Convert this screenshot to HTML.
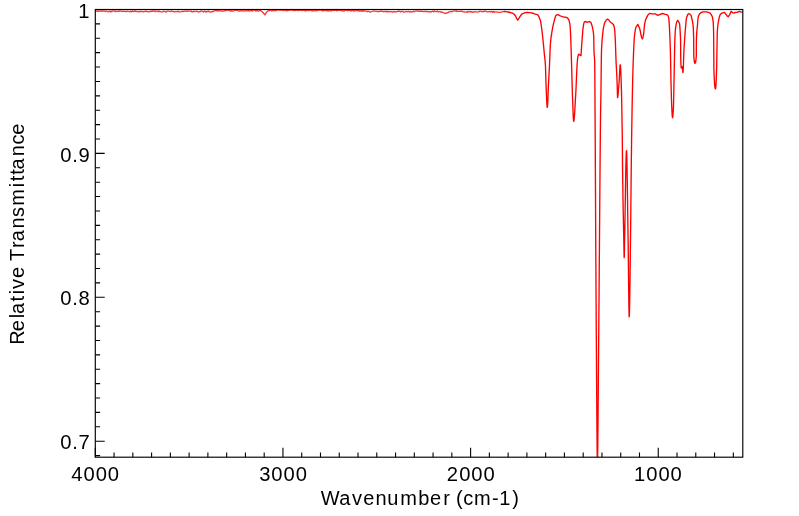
<!DOCTYPE html>
<html><head><meta charset="utf-8"><style>
html,body{margin:0;padding:0;background:#fff;}
body{width:799px;height:516px;overflow:hidden;position:relative;}
svg{position:absolute;left:0;top:0;will-change:transform;}
text{font-family:"Liberation Sans",sans-serif;fill:#000;}
</style></head><body>
<svg width="799" height="516" viewBox="0 0 799 516">
<defs><clipPath id="c"><rect x="95.3" y="9.5" width="647.50" height="447.70"/></clipPath></defs>
<path d="M95.50,11.30 L96.21,11.11 L96.91,10.92 L97.62,11.47 L98.33,10.84 L99.04,11.35 L99.74,11.16 L100.45,10.82 L101.16,11.32 L101.86,10.80 L102.57,11.24 L103.28,10.84 L103.99,10.87 L104.69,11.24 L105.40,11.68 L106.11,10.91 L106.81,11.02 L107.52,11.46 L108.23,11.82 L108.94,11.41 L109.64,11.21 L110.35,11.85 L111.06,10.83 L111.76,11.73 L112.47,11.10 L113.18,10.94 L113.89,10.92 L114.59,11.13 L115.30,11.69 L116.01,10.99 L116.71,11.43 L117.42,11.50 L118.13,11.21 L118.84,11.40 L119.54,10.87 L120.25,10.87 L120.96,11.03 L121.66,11.55 L122.37,11.27 L123.08,11.15 L123.79,11.45 L124.49,11.31 L125.20,11.14 L125.91,11.69 L126.61,11.58 L127.32,11.08 L128.03,11.45 L128.74,11.39 L129.44,11.78 L130.15,11.62 L130.86,11.14 L131.56,11.90 L132.27,10.95 L132.98,11.29 L133.69,11.66 L134.39,11.00 L135.10,11.37 L135.81,10.87 L136.51,11.57 L137.22,11.68 L137.93,11.47 L138.64,11.80 L139.34,11.18 L140.05,11.60 L140.76,11.50 L141.46,11.48 L142.17,11.35 L142.88,11.77 L143.59,11.89 L144.29,11.37 L145.00,11.40 L145.70,11.58 L146.41,10.92 L147.11,11.63 L147.82,11.57 L148.52,11.96 L149.23,11.77 L149.93,11.18 L150.63,11.30 L151.34,11.61 L152.04,10.90 L152.75,11.39 L153.45,11.07 L154.15,11.02 L154.86,10.95 L155.56,11.74 L156.27,11.04 L156.97,11.17 L157.68,11.33 L158.38,11.86 L159.08,10.99 L159.79,11.40 L160.49,11.52 L161.20,11.89 L161.90,11.82 L162.61,11.87 L163.31,11.23 L164.01,11.38 L164.72,11.32 L165.42,11.90 L166.13,11.99 L166.83,11.10 L167.54,11.13 L168.24,11.20 L168.94,11.20 L169.65,11.48 L170.35,11.60 L171.06,11.24 L171.76,10.96 L172.46,11.42 L173.17,11.37 L173.87,11.59 L174.58,12.02 L175.28,11.73 L175.99,11.54 L176.69,11.66 L177.39,11.72 L178.10,11.04 L178.80,11.97 L179.51,11.85 L180.21,11.95 L180.92,11.87 L181.62,11.43 L182.32,11.44 L183.03,11.12 L183.73,11.70 L184.44,11.08 L185.14,11.08 L185.85,11.24 L186.55,11.19 L187.25,11.39 L187.96,11.08 L188.66,11.02 L189.37,11.19 L190.07,11.14 L190.77,11.43 L191.48,11.06 L192.18,12.00 L192.89,11.72 L193.59,11.21 L194.30,11.32 L195.00,11.60 L195.72,11.43 L196.44,11.45 L197.16,11.19 L197.88,11.98 L198.60,12.14 L199.32,11.56 L200.04,11.58 L200.76,11.14 L201.48,11.16 L202.20,11.43 L202.92,11.34 L203.64,11.96 L204.36,11.23 L205.08,11.08 L205.80,12.10 L206.52,11.63 L207.24,11.21 L207.96,11.65 L208.68,11.08 L209.40,11.63 L210.12,12.13 L210.84,12.00 L211.56,11.82 L212.28,11.34 L213.00,11.60 L214.00,11.22 L215.00,10.70 L215.71,10.55 L216.43,10.33 L217.14,10.99 L217.86,10.73 L218.57,11.00 L219.29,10.50 L220.00,10.38 L220.71,11.02 L221.43,11.21 L222.14,11.06 L222.86,11.01 L223.57,11.02 L224.29,10.93 L225.00,10.37 L225.71,10.68 L226.43,10.50 L227.14,10.14 L227.86,10.14 L228.57,10.41 L229.29,10.39 L230.00,10.86 L230.71,11.15 L231.43,10.59 L232.14,11.12 L232.86,11.18 L233.57,11.14 L234.29,10.49 L235.00,10.33 L235.71,10.33 L236.43,10.29 L237.14,10.30 L237.86,10.76 L238.57,11.06 L239.29,10.99 L240.00,10.59 L240.71,10.78 L241.43,10.94 L242.14,10.15 L242.86,10.78 L243.57,11.06 L244.29,10.91 L245.00,10.60 L245.71,10.88 L246.42,10.58 L247.13,10.25 L247.84,10.92 L248.55,10.42 L249.25,10.93 L249.96,11.12 L250.67,10.49 L251.38,10.49 L252.09,11.09 L252.80,10.85 L253.51,10.24 L254.22,10.19 L254.93,10.22 L255.64,11.05 L256.35,10.94 L257.05,10.21 L257.76,10.96 L258.47,11.13 L259.18,10.77 L259.89,10.44 L260.60,10.60 L261.85,11.46 L263.10,12.75 L264.90,14.90 L266.60,12.10 L267.68,11.08 L268.75,10.60 L269.48,10.61 L270.20,10.11 L270.93,9.95 L271.65,10.96 L272.38,10.56 L273.10,10.39 L273.82,10.80 L274.55,10.21 L275.27,10.65 L276.00,10.20 L276.71,10.56 L277.41,9.89 L278.12,9.94 L278.83,9.99 L279.54,9.94 L280.24,10.32 L280.95,9.97 L281.66,10.15 L282.37,9.84 L283.07,10.70 L283.78,10.09 L284.49,10.21 L285.20,10.36 L285.90,10.71 L286.61,10.19 L287.32,10.74 L288.02,10.28 L288.73,10.32 L289.44,10.32 L290.15,9.77 L290.85,10.24 L291.56,9.96 L292.27,9.77 L292.98,10.65 L293.68,9.96 L294.39,10.30 L295.10,10.58 L295.80,10.40 L296.51,10.15 L297.22,10.37 L297.93,10.41 L298.63,10.67 L299.34,9.93 L300.05,10.43 L300.76,10.09 L301.46,10.13 L302.17,10.68 L302.88,10.39 L303.59,10.46 L304.29,10.68 L305.00,10.40 L305.70,10.86 L306.40,10.34 L307.11,10.53 L307.81,10.41 L308.51,10.42 L309.21,10.62 L309.91,10.36 L310.61,10.45 L311.32,10.39 L312.02,10.90 L312.72,10.64 L313.42,10.84 L314.12,10.91 L314.82,10.16 L315.53,10.49 L316.23,10.92 L316.93,10.80 L317.63,10.03 L318.33,10.02 L319.04,10.37 L319.74,9.97 L320.44,10.15 L321.14,9.97 L321.84,10.63 L322.54,10.76 L323.25,10.88 L323.95,10.07 L324.65,10.69 L325.35,10.63 L326.05,10.06 L326.75,10.88 L327.46,10.97 L328.16,10.15 L328.86,10.96 L329.56,10.35 L330.26,10.45 L330.96,11.00 L331.67,10.83 L332.37,10.10 L333.07,10.39 L333.77,10.49 L334.47,10.30 L335.18,10.14 L335.88,10.28 L336.58,10.72 L337.28,9.95 L337.98,10.54 L338.68,10.42 L339.39,9.96 L340.09,10.30 L340.79,10.63 L341.49,10.50 L342.19,10.01 L342.89,11.03 L343.60,10.81 L344.30,11.02 L345.00,10.50 L345.71,10.08 L346.43,10.27 L347.14,10.04 L347.86,10.86 L348.57,10.32 L349.29,10.18 L350.00,10.51 L350.71,11.07 L351.43,10.98 L352.14,10.38 L352.86,10.27 L353.57,11.13 L354.29,10.76 L355.00,10.92 L355.71,10.26 L356.43,10.24 L357.14,10.95 L357.86,10.67 L358.57,10.30 L359.29,11.27 L360.00,10.95 L360.71,11.15 L361.43,10.37 L362.14,11.23 L362.86,10.38 L363.57,11.27 L364.29,10.83 L365.00,10.90 L365.71,10.88 L366.43,11.27 L367.14,11.84 L367.86,11.27 L368.57,11.28 L369.29,11.87 L370.00,12.00 L371.00,11.83 L372.00,11.50 L372.72,11.22 L373.44,11.08 L374.16,11.14 L374.88,11.02 L375.59,11.19 L376.31,11.31 L377.03,11.31 L377.75,11.81 L378.47,11.30 L379.19,11.53 L379.91,11.18 L380.62,11.37 L381.34,11.01 L382.06,11.27 L382.78,11.01 L383.50,11.81 L384.22,11.61 L384.94,11.21 L385.66,11.53 L386.38,12.04 L387.09,11.13 L387.81,11.92 L388.53,11.50 L389.25,11.57 L389.97,11.95 L390.69,11.46 L391.41,11.59 L392.12,11.79 L392.84,12.12 L393.56,11.42 L394.28,11.96 L395.00,11.60 L395.71,11.84 L396.43,11.77 L397.14,11.52 L397.86,11.47 L398.57,11.16 L399.29,11.25 L400.00,11.19 L400.71,11.94 L401.43,11.42 L402.14,11.32 L402.86,11.25 L403.57,12.09 L404.29,12.13 L405.00,11.92 L405.71,11.50 L406.43,11.47 L407.14,11.53 L407.86,11.73 L408.57,11.40 L409.29,11.73 L410.00,11.80 L410.71,11.45 L411.43,12.14 L412.14,12.06 L412.86,11.51 L413.57,11.09 L414.29,11.80 L415.00,11.20 L415.71,11.03 L416.43,11.13 L417.14,10.78 L417.86,11.24 L418.57,11.39 L419.29,11.46 L420.00,11.17 L420.71,11.55 L421.43,11.04 L422.14,11.37 L422.86,11.22 L423.57,11.60 L424.29,11.25 L425.00,11.80 L425.71,11.24 L426.43,11.51 L427.14,11.40 L427.86,11.75 L428.57,11.65 L429.29,11.86 L430.00,11.72 L430.71,11.75 L431.43,11.90 L432.14,11.32 L432.86,11.22 L433.57,11.90 L434.29,10.95 L435.00,11.30 L435.71,11.59 L436.43,11.54 L437.14,10.93 L437.86,11.84 L438.57,11.95 L439.29,11.70 L440.00,11.60 L440.71,12.09 L441.43,12.40 L442.14,11.89 L442.86,12.54 L443.57,12.75 L444.29,13.34 L445.00,13.20 L445.75,13.32 L446.50,13.12 L447.25,12.63 L448.00,12.75 L448.75,12.10 L449.88,11.61 L451.00,11.40 L451.74,11.58 L452.48,11.57 L453.22,11.03 L453.95,10.79 L454.69,10.88 L455.43,11.11 L456.17,10.80 L456.91,11.58 L457.65,11.26 L458.38,11.31 L459.12,11.29 L459.86,11.32 L460.60,11.10 L461.33,11.24 L462.07,10.85 L462.80,11.88 L463.53,11.97 L464.27,11.85 L465.00,12.00 L465.73,12.03 L466.47,12.15 L467.20,11.48 L467.93,12.21 L468.67,11.66 L469.40,11.45 L470.13,11.65 L470.87,12.15 L471.60,11.56 L472.33,12.13 L473.07,12.38 L473.80,11.83 L474.53,11.70 L475.27,11.79 L476.00,11.80 L476.72,11.97 L477.44,12.03 L478.17,11.83 L478.89,11.82 L479.61,11.17 L480.33,11.21 L481.06,11.30 L481.78,11.80 L482.50,11.50 L483.24,11.31 L483.97,11.62 L484.71,11.03 L485.44,11.11 L486.18,11.36 L486.91,11.83 L487.65,11.88 L488.38,11.88 L489.12,11.48 L489.85,11.75 L490.59,11.72 L491.32,11.75 L492.06,11.39 L492.79,12.26 L493.53,11.52 L494.26,12.40 L495.00,11.90 L496.00,11.94 L497.00,12.04 L498.00,12.16 L499.00,12.26 L500.00,12.30 L501.00,12.18 L502.00,11.90 L503.00,11.62 L504.00,11.50" fill="none" stroke="#ff0000" stroke-opacity="0.8" stroke-width="1.3" stroke-linejoin="round" clip-path="url(#c)"/>
<path d="M504.00,11.50 L505.02,11.54 L506.03,11.65 L507.05,11.82 L508.07,12.03 L509.08,12.26 L510.10,12.50 L511.27,12.81 L512.43,13.22 L513.60,13.80 L514.60,14.73 L515.60,16.10 L516.60,18.47 L517.60,20.10 L518.60,18.95 L519.60,17.10 L520.90,15.16 L522.20,13.80 L523.33,13.28 L524.45,12.87 L525.58,12.60 L526.70,12.50 L527.83,12.52 L528.95,12.59 L530.08,12.68 L531.20,12.80 L532.23,13.01 L533.25,13.36 L534.27,13.75 L535.30,14.10 L536.55,14.38 L537.80,14.80 L538.80,16.46 L539.80,19.00 L540.30,20.20 L540.66,21.72 L541.02,23.85 L541.38,26.39 L541.74,29.16 L542.10,32.00 L542.31,33.69 L542.52,35.51 L542.73,37.43 L542.94,39.43 L543.15,41.50 L543.35,43.63 L543.56,45.80 L543.77,47.98 L543.98,50.17 L544.19,52.35 L544.40,54.50 L544.60,56.37 L544.80,58.08 L545.00,59.91 L545.20,62.13 L545.40,65.00 L545.47,66.36 L545.53,68.16 L545.60,70.30 L545.67,72.67 L545.73,75.14 L545.80,77.62 L545.87,79.98 L545.93,82.11 L546.00,83.90 L546.12,86.77 L546.24,89.71 L546.35,92.65 L546.47,95.51 L546.59,98.23 L546.71,100.73 L546.83,102.94 L546.95,104.78 L547.06,106.19 L547.18,107.08 L547.30,107.40 L547.41,107.03 L547.52,105.98 L547.63,104.36 L547.74,102.28 L547.85,99.85 L547.95,97.17 L548.06,94.36 L548.17,91.52 L548.28,88.76 L548.39,86.18 L548.50,83.90 L548.61,81.79 L548.72,79.73 L548.83,77.70 L548.94,75.68 L549.06,73.64 L549.17,71.58 L549.28,69.46 L549.39,67.27 L549.50,65.00 L549.59,62.99 L549.68,60.76 L549.77,58.40 L549.86,55.97 L549.95,53.54 L550.04,51.19 L550.13,48.99 L550.22,47.01 L550.31,45.32 L550.40,44.00 L550.65,41.17 L550.90,38.82 L551.15,36.83 L551.40,35.11 L551.65,33.53 L551.90,32.00 L552.40,29.07 L552.90,26.45 L553.40,24.13 L553.90,22.10 L554.67,19.09 L555.43,16.46 L556.20,15.10 L557.70,14.60 L558.95,15.08 L560.20,15.80 L561.20,16.19 L562.20,16.53 L563.20,16.80 L564.20,16.96 L565.20,17.09 L566.20,17.30 L567.35,17.96 L568.50,19.30 L569.15,20.78 L569.80,23.60 L569.97,24.97 L570.15,27.02 L570.33,29.58 L570.50,32.50 L570.57,33.85 L570.64,35.40 L570.71,37.13 L570.79,39.03 L570.86,41.06 L570.93,43.20 L571.00,45.44 L571.07,47.76 L571.14,50.13 L571.21,52.53 L571.29,54.94 L571.36,57.33 L571.43,59.69 L571.50,62.00 L571.56,63.92 L571.62,65.91 L571.68,67.98 L571.74,70.10 L571.79,72.26 L571.85,74.45 L571.91,76.66 L571.97,78.86 L572.03,81.06 L572.09,83.22 L572.15,85.35 L572.21,87.42 L572.26,89.42 L572.32,91.35 L572.38,93.18 L572.44,94.90 L572.50,96.50 L572.60,99.18 L572.70,101.97 L572.80,104.80 L572.90,107.60 L573.00,110.31 L573.10,112.87 L573.20,115.21 L573.30,117.27 L573.40,118.98 L573.50,120.28 L573.60,121.11 L573.70,121.40 L573.86,121.10 L574.02,120.26 L574.18,118.93 L574.33,117.19 L574.49,115.11 L574.65,112.75 L574.81,110.17 L574.97,107.46 L575.12,104.66 L575.28,101.86 L575.44,99.12 L575.60,96.50 L575.70,94.81 L575.80,92.94 L575.90,90.94 L576.00,88.81 L576.10,86.59 L576.20,84.30 L576.30,81.97 L576.40,79.62 L576.50,77.29 L576.60,74.98 L576.70,72.74 L576.80,70.59 L576.90,68.54 L577.00,66.64 L577.10,64.89 L577.20,63.34 L577.30,62.00 L577.55,59.19 L577.80,57.20 L578.60,54.10 L579.75,54.85 L580.90,55.60 L581.08,54.55 L581.25,52.00 L581.42,48.87 L581.60,46.10 L581.76,44.02 L581.92,41.98 L582.08,39.97 L582.24,37.97 L582.40,36.00 L582.58,33.70 L582.75,31.32 L582.92,29.18 L583.10,27.60 L583.75,23.66 L584.40,21.80 L585.70,21.50 L587.20,22.30 L588.30,21.90 L589.40,21.50 L590.90,22.30 L592.00,25.60 L592.50,27.60 L593.00,30.20 L593.35,32.25 L593.70,36.00 L593.74,37.20 L593.79,39.23 L593.83,41.80 L593.87,44.58 L593.91,47.26 L593.96,49.54 L594.00,51.10 L594.14,53.85 L594.28,55.48 L594.42,56.82 L594.56,58.72 L594.70,62.00 L594.71,62.52 L594.73,63.23 L594.74,64.12 L594.76,65.19 L594.77,66.43 L594.78,67.81 L594.80,69.35 L594.81,71.01 L594.82,72.80 L594.84,74.71 L594.85,76.72 L594.87,78.83 L594.88,81.03 L594.89,83.30 L594.91,85.64 L594.92,88.04 L594.93,90.48 L594.95,92.97 L594.96,95.48 L594.98,98.01 L594.99,100.54 L595.00,103.08 L595.02,105.61 L595.03,108.11 L595.04,110.59 L595.06,113.03 L595.07,115.41 L595.09,117.74 L595.10,120.00 L595.12,122.84 L595.13,125.74 L595.15,128.68 L595.17,131.67 L595.19,134.70 L595.21,137.77 L595.22,140.88 L595.24,144.02 L595.26,147.20 L595.27,150.41 L595.29,153.65 L595.31,156.92 L595.33,160.21 L595.35,163.52 L595.36,166.85 L595.38,170.20 L595.40,173.57 L595.41,176.95 L595.43,180.34 L595.45,183.74 L595.47,187.15 L595.49,190.56 L595.50,193.97 L595.52,197.38 L595.54,200.79 L595.55,204.19 L595.57,207.58 L595.59,210.97 L595.61,214.34 L595.62,217.70 L595.64,221.05 L595.66,224.37 L595.68,227.67 L595.69,230.95 L595.71,234.20 L595.73,237.43 L595.75,240.62 L595.76,243.78 L595.78,246.91 L595.80,250.00 L595.81,252.64 L595.83,255.28 L595.84,257.93 L595.86,260.59 L595.88,263.25 L595.89,265.92 L595.90,268.59 L595.92,271.26 L595.93,273.93 L595.95,276.60 L595.96,279.26 L595.98,281.92 L596.00,284.58 L596.01,287.23 L596.02,289.88 L596.04,292.51 L596.05,295.14 L596.07,297.75 L596.08,300.35 L596.10,302.94 L596.12,305.52 L596.13,308.07 L596.14,310.62 L596.16,313.14 L596.17,315.64 L596.19,318.12 L596.20,320.58 L596.22,323.02 L596.24,325.43 L596.25,327.82 L596.26,330.18 L596.28,332.51 L596.29,334.81 L596.31,337.08 L596.32,339.32 L596.34,341.53 L596.36,343.70 L596.37,345.84 L596.38,347.94 L596.40,350.00 L596.42,353.44 L596.45,356.96 L596.48,360.54 L596.50,364.17 L596.52,367.85 L596.55,371.56 L596.57,375.31 L596.60,379.08 L596.62,382.86 L596.65,386.65 L596.67,390.44 L596.70,394.21 L596.73,397.97 L596.75,401.70 L596.77,405.39 L596.80,409.04 L596.82,412.63 L596.85,416.17 L596.88,419.63 L596.90,423.02 L596.92,426.33 L596.95,429.54 L596.98,432.65 L597.00,435.65 L597.02,438.53 L597.05,441.29 L597.07,443.91 L597.10,446.39 L597.12,448.72 L597.15,450.88 L597.17,452.89 L597.20,454.71 L597.23,456.35 L597.25,457.80 L597.27,459.05 L597.30,460.09 L597.32,460.91 L597.35,461.51 L597.38,461.88 L597.40,462.00 L597.43,461.87 L597.46,461.50 L597.49,460.88 L597.52,460.03 L597.55,458.96 L597.58,457.67 L597.61,456.18 L597.64,454.50 L597.67,452.62 L597.70,450.57 L597.73,448.35 L597.76,445.97 L597.79,443.43 L597.82,440.76 L597.85,437.94 L597.88,435.01 L597.91,431.95 L597.94,428.79 L597.97,425.54 L598.00,422.19 L598.03,418.76 L598.06,415.26 L598.09,411.69 L598.12,408.07 L598.15,404.41 L598.18,400.71 L598.21,396.98 L598.24,393.23 L598.27,389.47 L598.30,385.71 L598.33,381.96 L598.36,378.22 L598.39,374.51 L598.42,370.84 L598.45,367.21 L598.48,363.63 L598.51,360.11 L598.54,356.66 L598.57,353.28 L598.60,350.00 L598.62,347.82 L598.64,345.61 L598.66,343.36 L598.68,341.08 L598.70,338.77 L598.72,336.43 L598.74,334.06 L598.76,331.66 L598.78,329.24 L598.80,326.80 L598.82,324.33 L598.84,321.84 L598.86,319.33 L598.88,316.81 L598.90,314.27 L598.92,311.71 L598.94,309.14 L598.96,306.56 L598.98,303.97 L599.00,301.38 L599.02,298.77 L599.04,296.16 L599.06,293.55 L599.08,290.93 L599.10,288.31 L599.12,285.70 L599.14,283.08 L599.16,280.47 L599.18,277.86 L599.20,275.27 L599.22,272.68 L599.24,270.10 L599.26,267.53 L599.28,264.97 L599.30,262.43 L599.32,259.91 L599.34,257.40 L599.36,254.91 L599.38,252.45 L599.40,250.00 L599.43,246.63 L599.45,243.23 L599.48,239.79 L599.51,236.31 L599.54,232.81 L599.56,229.28 L599.59,225.73 L599.62,222.17 L599.65,218.59 L599.67,214.99 L599.70,211.40 L599.73,207.79 L599.76,204.19 L599.78,200.59 L599.81,197.00 L599.84,193.42 L599.87,189.85 L599.89,186.31 L599.92,182.78 L599.95,179.28 L599.98,175.80 L600.00,172.36 L600.03,168.96 L600.06,165.59 L600.09,162.27 L600.12,158.99 L600.14,155.77 L600.17,152.59 L600.20,149.48 L600.23,146.42 L600.25,143.43 L600.28,140.51 L600.31,137.66 L600.34,134.88 L600.36,132.18 L600.39,129.57 L600.42,127.04 L600.45,124.60 L600.47,122.25 L600.50,120.00 L600.53,117.58 L600.56,115.30 L600.59,113.16 L600.62,111.12 L600.66,109.17 L600.69,107.29 L600.72,105.46 L600.75,103.66 L600.78,101.87 L600.81,100.07 L600.84,98.24 L600.88,96.37 L600.91,94.42 L600.94,92.40 L600.97,90.26 L601.00,88.00 L601.02,86.20 L601.05,84.28 L601.07,82.24 L601.09,80.13 L601.12,77.96 L601.14,75.77 L601.16,73.58 L601.18,71.42 L601.21,69.32 L601.23,67.30 L601.25,65.39 L601.28,63.61 L601.30,62.00 L601.34,59.35 L601.38,56.78 L601.42,54.45 L601.46,52.50 L601.50,51.10 L601.64,47.61 L601.79,44.79 L601.93,42.50 L602.07,40.61 L602.21,38.99 L602.36,37.50 L602.50,36.00 L602.75,33.42 L603.00,31.11 L603.25,29.14 L603.50,27.60 L604.25,24.21 L605.00,22.10 L606.30,20.00 L607.60,19.10 L608.60,19.72 L609.60,21.06 L610.60,22.30 L612.00,23.26 L613.40,24.60 L614.00,26.11 L614.60,29.10 L614.77,30.72 L614.93,33.16 L615.10,36.00 L615.18,37.46 L615.25,39.12 L615.33,40.96 L615.41,42.95 L615.48,45.05 L615.56,47.23 L615.64,49.45 L615.72,51.70 L615.79,53.92 L615.87,56.09 L615.95,58.19 L616.02,60.17 L616.10,62.00 L616.20,64.18 L616.30,66.21 L616.40,68.13 L616.50,69.99 L616.60,71.82 L616.70,73.68 L616.80,75.60 L616.90,77.63 L617.00,79.82 L617.10,82.20 L617.17,84.36 L617.24,87.07 L617.31,90.01 L617.39,92.85 L617.46,95.28 L617.53,96.97 L617.60,97.60 L617.85,96.60 L618.10,94.13 L618.35,90.99 L618.60,88.00 L618.85,85.26 L619.10,82.20 L619.24,80.07 L619.38,77.45 L619.51,74.58 L619.65,71.69 L619.79,69.04 L619.93,66.84 L620.06,65.35 L620.20,64.80 L620.31,65.07 L620.42,65.85 L620.53,67.08 L620.64,68.74 L620.75,70.75 L620.85,73.10 L620.96,75.71 L621.07,78.56 L621.18,81.59 L621.29,84.75 L621.40,88.00 L621.44,89.27 L621.48,90.73 L621.52,92.38 L621.55,94.19 L621.59,96.13 L621.63,98.19 L621.67,100.34 L621.71,102.56 L621.75,104.84 L621.78,107.14 L621.82,109.45 L621.86,111.74 L621.90,114.00 L621.93,115.77 L621.96,117.53 L621.99,119.28 L622.02,121.05 L622.05,122.84 L622.08,124.68 L622.12,126.57 L622.15,128.54 L622.18,130.60 L622.21,132.75 L622.24,135.03 L622.27,137.44 L622.30,140.00 L622.32,141.70 L622.34,143.63 L622.35,145.75 L622.37,148.01 L622.39,150.34 L622.41,152.70 L622.43,155.03 L622.45,157.28 L622.46,159.39 L622.48,161.32 L622.50,163.00 L622.53,165.87 L622.57,168.66 L622.60,171.38 L622.64,174.04 L622.67,176.63 L622.71,179.16 L622.74,181.62 L622.77,184.03 L622.81,186.38 L622.84,188.68 L622.88,190.93 L622.91,193.12 L622.94,195.27 L622.98,197.38 L623.01,199.44 L623.05,201.45 L623.08,203.43 L623.12,205.38 L623.15,207.29 L623.18,209.17 L623.22,211.01 L623.25,212.83 L623.29,214.63 L623.32,216.40 L623.36,218.15 L623.39,219.88 L623.42,221.60 L623.46,223.30 L623.49,224.98 L623.53,226.66 L623.56,228.33 L623.59,230.00 L623.63,231.66 L623.66,233.32 L623.70,234.98 L623.73,236.65 L623.77,238.32 L623.80,240.00 L623.85,242.64 L623.90,245.52 L623.95,248.45 L624.00,251.26 L624.05,253.76 L624.10,255.77 L624.15,257.11 L624.20,257.60 L624.25,257.09 L624.30,255.70 L624.35,253.62 L624.40,251.06 L624.45,248.21 L624.50,245.29 L624.55,242.48 L624.60,240.00 L624.65,237.80 L624.70,235.48 L624.74,233.07 L624.79,230.55 L624.84,227.96 L624.88,225.28 L624.93,222.54 L624.98,219.74 L625.03,216.88 L625.08,213.99 L625.12,211.06 L625.17,208.11 L625.22,205.14 L625.26,202.16 L625.31,199.19 L625.36,196.22 L625.41,193.27 L625.46,190.35 L625.50,187.47 L625.55,184.63 L625.60,181.85 L625.64,179.13 L625.69,176.47 L625.74,173.90 L625.79,171.42 L625.84,169.03 L625.88,166.75 L625.93,164.59 L625.98,162.54 L626.02,160.63 L626.07,158.86 L626.12,157.24 L626.17,155.78 L626.22,154.49 L626.26,153.36 L626.31,152.43 L626.36,151.69 L626.40,151.14 L626.45,150.81 L626.50,150.70 L626.54,150.80 L626.58,151.11 L626.62,151.61 L626.66,152.30 L626.70,153.17 L626.74,154.21 L626.78,155.42 L626.82,156.79 L626.86,158.31 L626.90,159.97 L626.94,161.77 L626.98,163.70 L627.02,165.74 L627.06,167.91 L627.10,170.18 L627.14,172.54 L627.18,175.01 L627.22,177.55 L627.26,180.17 L627.30,182.86 L627.34,185.62 L627.38,188.43 L627.42,191.29 L627.46,194.18 L627.50,197.11 L627.54,200.07 L627.58,203.04 L627.62,206.03 L627.66,209.02 L627.70,212.00 L627.74,214.97 L627.78,217.93 L627.82,220.86 L627.86,223.75 L627.90,226.60 L627.94,229.41 L627.98,232.16 L628.02,234.85 L628.06,237.46 L628.10,240.00 L628.13,241.87 L628.16,243.86 L628.19,245.96 L628.22,248.16 L628.24,250.45 L628.27,252.82 L628.30,255.27 L628.33,257.78 L628.36,260.34 L628.39,262.95 L628.42,265.60 L628.45,268.27 L628.48,270.96 L628.51,273.65 L628.53,276.35 L628.56,279.03 L628.59,281.70 L628.62,284.34 L628.65,286.93 L628.68,289.48 L628.71,291.98 L628.74,294.41 L628.77,296.76 L628.79,299.03 L628.82,301.20 L628.85,303.27 L628.88,305.23 L628.91,307.06 L628.94,308.77 L628.97,310.34 L629.00,311.75 L629.03,313.01 L629.06,314.10 L629.08,315.01 L629.11,315.74 L629.14,316.27 L629.17,316.59 L629.20,316.70 L629.23,316.61 L629.27,316.34 L629.30,315.90 L629.34,315.29 L629.37,314.52 L629.41,313.60 L629.44,312.53 L629.47,311.33 L629.51,309.98 L629.54,308.51 L629.58,306.91 L629.61,305.20 L629.64,303.38 L629.68,301.45 L629.71,299.42 L629.75,297.31 L629.78,295.11 L629.82,292.82 L629.85,290.47 L629.88,288.05 L629.92,285.56 L629.95,283.02 L629.99,280.44 L630.02,277.81 L630.06,275.14 L630.09,272.45 L630.12,269.73 L630.16,266.99 L630.19,264.24 L630.23,261.49 L630.26,258.73 L630.29,255.99 L630.33,253.25 L630.36,250.54 L630.40,247.85 L630.43,245.19 L630.47,242.58 L630.50,240.00 L630.52,238.40 L630.54,236.74 L630.56,235.03 L630.58,233.26 L630.61,231.44 L630.63,229.58 L630.65,227.67 L630.67,225.72 L630.69,223.73 L630.71,221.71 L630.73,219.66 L630.75,217.57 L630.77,215.47 L630.79,213.33 L630.82,211.18 L630.84,209.01 L630.86,206.83 L630.88,204.64 L630.90,202.43 L630.92,200.23 L630.94,198.02 L630.96,195.81 L630.98,193.60 L631.01,191.40 L631.03,189.22 L631.05,187.04 L631.07,184.88 L631.09,182.74 L631.11,180.62 L631.13,178.52 L631.15,176.45 L631.17,174.42 L631.19,172.41 L631.22,170.45 L631.24,168.52 L631.26,166.63 L631.28,164.79 L631.30,163.00 L631.33,160.73 L631.35,158.50 L631.38,156.32 L631.41,154.16 L631.44,152.05 L631.46,149.96 L631.49,147.91 L631.52,145.89 L631.55,143.90 L631.57,141.94 L631.60,140.00 L631.63,137.84 L631.66,135.70 L631.69,133.58 L631.72,131.48 L631.75,129.42 L631.78,127.38 L631.82,125.37 L631.85,123.39 L631.88,121.44 L631.91,119.53 L631.94,117.65 L631.97,115.80 L632.00,114.00 L632.04,111.78 L632.08,109.59 L632.12,107.42 L632.15,105.29 L632.19,103.19 L632.23,101.12 L632.27,99.10 L632.31,97.12 L632.35,95.19 L632.38,93.31 L632.42,91.48 L632.46,89.71 L632.50,88.00 L632.55,85.66 L632.61,83.35 L632.66,81.07 L632.72,78.84 L632.77,76.67 L632.82,74.55 L632.88,72.50 L632.93,70.53 L632.98,68.63 L633.04,66.82 L633.09,65.11 L633.15,63.50 L633.20,62.00 L633.30,59.34 L633.40,56.75 L633.50,54.22 L633.60,51.78 L633.70,49.44 L633.80,47.22 L633.90,45.12 L634.00,43.16 L634.10,41.36 L634.20,39.73 L634.30,38.29 L634.40,37.04 L634.50,36.00 L634.88,32.83 L635.25,30.27 L635.62,28.35 L636.00,27.10 L637.80,24.40 L639.60,28.20 L640.20,30.96 L640.80,34.00 L641.55,37.24 L642.30,39.00 L642.95,37.42 L643.60,34.00 L643.85,31.92 L644.10,29.03 L644.35,26.16 L644.60,24.10 L645.35,20.80 L646.10,18.60 L647.60,15.60 L648.60,14.20 L649.60,13.50 L650.90,13.65 L652.20,13.80 L653.20,13.80 L654.20,13.80 L655.20,13.80 L656.60,14.55 L658.00,15.30 L659.10,14.91 L660.20,14.30 L661.35,13.79 L662.50,13.50 L663.90,13.79 L665.30,14.30 L666.55,14.58 L667.80,15.10 L668.50,17.10 L668.70,18.00 L668.82,18.93 L668.95,20.16 L669.07,21.67 L669.19,23.44 L669.31,25.45 L669.44,27.66 L669.56,30.06 L669.68,32.61 L669.80,35.31 L669.93,38.11 L670.05,41.00 L670.11,42.64 L670.18,44.48 L670.24,46.49 L670.31,48.67 L670.37,51.00 L670.44,53.45 L670.50,56.00 L670.54,57.65 L670.58,59.48 L670.62,61.44 L670.65,63.52 L670.69,65.67 L670.73,67.88 L670.77,70.09 L670.81,72.30 L670.85,74.45 L670.88,76.53 L670.92,78.51 L670.96,80.34 L671.00,82.00 L671.06,84.49 L671.12,86.94 L671.18,89.33 L671.25,91.66 L671.31,93.92 L671.37,96.10 L671.43,98.17 L671.49,100.14 L671.55,101.99 L671.62,103.72 L671.68,105.30 L671.74,106.73 L671.80,108.00 L671.97,111.41 L672.15,114.54 L672.33,116.82 L672.50,117.70 L672.73,116.94 L672.95,114.87 L673.17,111.79 L673.40,108.00 L673.45,107.01 L673.49,105.72 L673.54,104.18 L673.58,102.40 L673.63,100.44 L673.68,98.32 L673.72,96.07 L673.77,93.74 L673.82,91.36 L673.86,88.96 L673.91,86.57 L673.95,84.24 L674.00,82.00 L674.04,80.15 L674.08,78.24 L674.12,76.29 L674.15,74.30 L674.19,72.28 L674.23,70.24 L674.27,68.19 L674.31,66.13 L674.35,64.07 L674.38,62.02 L674.42,59.99 L674.46,57.98 L674.50,56.00 L674.54,53.70 L674.59,51.26 L674.63,48.78 L674.67,46.39 L674.71,44.22 L674.76,42.38 L674.80,41.00 L674.93,37.89 L675.06,35.22 L675.19,32.95 L675.31,31.04 L675.44,29.44 L675.57,28.10 L675.70,27.00 L676.15,24.08 L676.60,22.30 L677.70,20.25 L679.50,23.40 L679.65,24.29 L679.80,25.85 L679.95,27.94 L680.10,30.41 L680.25,33.15 L680.40,36.00 L680.50,37.81 L680.60,41.00 L680.61,42.24 L680.63,44.40 L680.64,47.10 L680.66,49.98 L680.67,52.67 L680.69,54.80 L680.70,56.00 L680.80,59.89 L680.90,62.95 L681.00,65.24 L681.10,66.81 L681.20,67.71 L681.30,68.00 L682.30,66.60 L682.50,68.16 L682.70,71.04 L682.90,72.60 L683.07,71.62 L683.23,69.16 L683.40,66.00 L683.46,64.45 L683.52,62.35 L683.58,60.04 L683.64,57.81 L683.70,56.00 L683.81,53.28 L683.93,50.82 L684.04,48.58 L684.16,46.52 L684.27,44.60 L684.39,42.77 L684.50,41.00 L684.68,38.34 L684.86,35.88 L685.04,33.58 L685.22,31.40 L685.40,29.30 L685.62,26.63 L685.84,23.88 L686.06,21.33 L686.28,19.28 L686.50,18.00 L687.60,14.80 L688.70,13.60 L689.95,14.09 L691.20,15.60 L691.70,18.00 L692.13,19.84 L692.57,21.76 L693.00,24.80 L693.09,25.64 L693.17,26.62 L693.26,27.84 L693.35,29.40 L693.44,31.40 L693.53,33.94 L693.61,37.10 L693.70,41.00 L693.71,42.32 L693.73,44.60 L693.74,47.42 L693.76,50.39 L693.77,53.08 L693.79,55.09 L693.80,56.00 L694.20,60.70 L694.60,62.81 L695.00,63.30 L695.43,62.83 L695.87,60.73 L696.30,56.00 L696.31,55.08 L696.33,53.01 L696.34,50.25 L696.36,47.24 L696.37,44.39 L696.39,42.17 L696.40,41.00 L696.54,36.83 L696.67,33.74 L696.81,31.48 L696.95,29.84 L697.09,28.57 L697.23,27.47 L697.36,26.29 L697.50,24.80 L697.73,21.69 L697.97,18.81 L698.20,17.10 L699.45,14.03 L700.70,12.80 L701.90,12.27 L703.10,11.93 L704.30,11.80 L705.35,11.83 L706.40,11.93 L707.45,12.09 L708.50,12.30 L709.50,12.77 L710.50,13.60 L712.10,16.10 L712.60,17.82 L713.10,21.10 L713.20,22.14 L713.30,23.62 L713.40,25.66 L713.50,28.41 L713.60,32.00 L713.62,32.95 L713.64,34.28 L713.65,35.94 L713.67,37.88 L713.69,40.06 L713.71,42.41 L713.73,44.88 L713.75,47.43 L713.76,50.00 L713.78,52.54 L713.80,55.00 L713.81,57.17 L713.83,59.73 L713.84,62.45 L713.86,65.07 L713.87,67.37 L713.89,69.09 L713.90,70.00 L714.08,74.76 L714.26,78.68 L714.43,81.83 L714.61,84.30 L714.79,86.15 L714.97,87.47 L715.14,88.31 L715.32,88.77 L715.50,88.90 L715.62,88.58 L715.74,87.66 L715.87,86.21 L715.99,84.30 L716.11,81.98 L716.23,79.32 L716.36,76.40 L716.48,73.27 L716.60,70.00 L716.64,68.83 L716.67,67.34 L716.71,65.57 L716.75,63.56 L716.78,61.36 L716.82,58.99 L716.86,56.51 L716.89,53.95 L716.93,51.35 L716.97,48.75 L717.01,46.19 L717.04,43.72 L717.08,41.36 L717.12,39.17 L717.15,37.17 L717.19,35.42 L717.23,33.95 L717.26,32.79 L717.30,32.00 L717.56,28.33 L717.82,25.62 L718.08,23.60 L718.34,22.01 L718.60,20.60 L719.35,16.95 L720.10,14.80 L721.10,13.69 L722.10,13.10 L723.25,12.68 L724.40,12.50 L726.20,14.60 L727.20,15.98 L728.20,16.80 L729.70,14.60 L731.20,11.30 L732.20,12.20 L733.20,13.10 L734.20,12.84 L735.20,12.50 L736.20,12.40 L737.20,12.30 L738.25,11.76 L739.30,11.30 L740.80,11.80 L741.80,12.07 L742.80,12.30" fill="none" stroke="#ff0000" stroke-width="1.35" stroke-linejoin="round" clip-path="url(#c)"/>
<path d="M95.30,9.50h9.4 M95.30,23.89h4.8 M95.30,38.28h4.8 M95.30,52.67h4.8 M95.30,67.06h4.8 M95.30,81.45h4.8 M95.30,95.84h4.8 M95.30,110.23h4.8 M95.30,124.62h4.8 M95.30,139.01h4.8 M95.30,153.40h9.4 M95.30,167.79h4.8 M95.30,182.18h4.8 M95.30,196.57h4.8 M95.30,210.96h4.8 M95.30,225.35h4.8 M95.30,239.74h4.8 M95.30,254.13h4.8 M95.30,268.52h4.8 M95.30,282.91h4.8 M95.30,297.30h9.4 M95.30,311.69h4.8 M95.30,326.08h4.8 M95.30,340.47h4.8 M95.30,354.86h4.8 M95.30,369.25h4.8 M95.30,383.64h4.8 M95.30,398.03h4.8 M95.30,412.42h4.8 M95.30,426.81h4.8 M95.30,441.20h9.4 M95.30,455.59h4.8 M95.30,457.20v-9.4 M114.06,457.20v-4.8 M132.83,457.20v-4.8 M151.59,457.20v-4.8 M170.36,457.20v-4.8 M189.12,457.20v-4.8 M207.89,457.20v-4.8 M226.66,457.20v-4.8 M245.42,457.20v-4.8 M264.19,457.20v-4.8 M282.95,457.20v-9.4 M301.72,457.20v-4.8 M320.48,457.20v-4.8 M339.25,457.20v-4.8 M358.01,457.20v-4.8 M376.78,457.20v-4.8 M395.54,457.20v-4.8 M414.31,457.20v-4.8 M433.07,457.20v-4.8 M451.84,457.20v-4.8 M470.60,457.20v-9.4 M489.37,457.20v-4.8 M508.13,457.20v-4.8 M526.89,457.20v-4.8 M545.66,457.20v-4.8 M564.42,457.20v-4.8 M583.19,457.20v-4.8 M601.96,457.20v-4.8 M620.72,457.20v-4.8 M639.49,457.20v-4.8 M658.25,457.20v-9.4 M677.01,457.20v-4.8 M695.78,457.20v-4.8 M714.54,457.20v-4.8 M733.31,457.20v-4.8" fill="none" stroke="#000" stroke-width="1.1"/>
<rect x="95.3" y="9.5" width="647.50" height="447.70" fill="none" stroke="#000" stroke-width="1.15" stroke-linejoin="miter"/>
<text x="78.16" y="17.6" font-size="20.2">1</text>
<text x="60.33 72.19 78.59" y="161.6" font-size="20.2">0.9</text>
<text x="60.33 72.19 78.58" y="304.6" font-size="20.2">0.8</text>
<text x="60.33 72.19 78.57" y="448.6" font-size="20.2">0.7</text>
<text x="71.32 83.50 95.69 107.87" y="481.3" font-size="20.2">4000</text>
<text x="259.14 271.29 283.48 295.66" y="481.3" font-size="20.2">3000</text>
<text x="446.73 459.17 471.35 483.54" y="481.3" font-size="20.2">2000</text>
<text x="633.93 646.22 658.40 670.59" y="481.3" font-size="20.2">1000</text>
<text x="320.75 339.21 352.00 363.36 375.42 387.35 400.17 418.21 429.96 443.17 449.70 456.11 463.34 474.07 491.97 499.17 512.13" y="504.5" font-size="20.0">Wavenumber (cm-1)</text>
<text x="-344.68 -331.24 -318.23 -313.99 -301.46 -294.22 -289.05 -277.94 -266.43 -261.00 -247.93 -241.19 -228.38 -217.02 -205.83 -187.32 -181.36 -174.66 -169.59 -156.28 -144.56 -134.64" y="23.6" font-size="20.0" transform="rotate(-90)">Relative Transmittance</text>
</svg>
</body></html>
